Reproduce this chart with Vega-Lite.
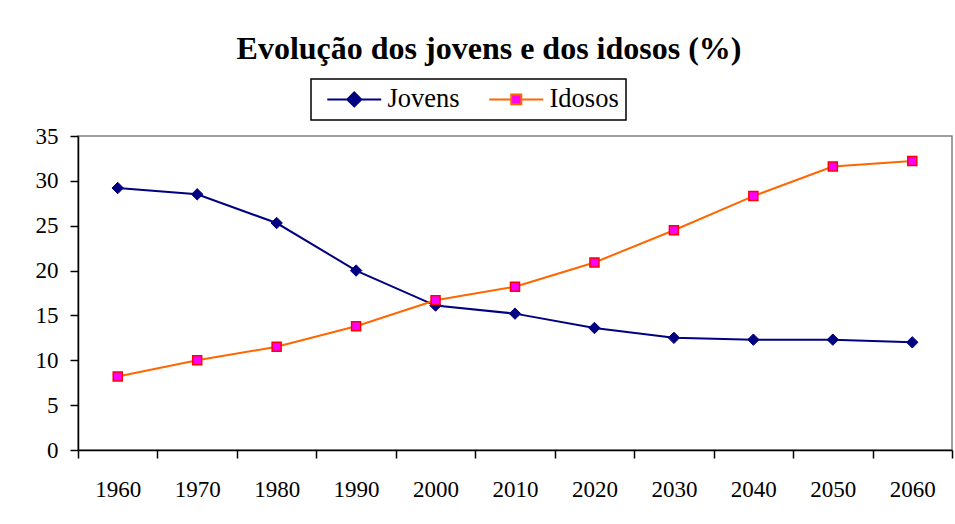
{
  "$schema": "https://vega.github.io/schema/vega-lite/v6.json",
  "width": 874,
  "height": 314,
  "autosize": {"type": "none"},
  "padding": {"left": 78, "top": 136, "right": 3, "bottom": 74},
  "background": "white",
  "title": {
    "text": "Evolução dos jovens e dos idosos (%)",
    "font": "'Liberation Serif', 'Times New Roman', Times, serif",
    "fontSize": 32,
    "fontWeight": "bold",
    "color": "black",
    "anchor": "middle",
    "frame": "group",
    "dx": -26,
    "baseline": "alphabetic",
    "offset": -13
  },
  "data": {
    "values": [
      {"ano": "1960", "serie": "Jovens", "valor": 29.2},
      {"ano": "1970", "serie": "Jovens", "valor": 28.5},
      {"ano": "1980", "serie": "Jovens", "valor": 25.3},
      {"ano": "1990", "serie": "Jovens", "valor": 20.0},
      {"ano": "2000", "serie": "Jovens", "valor": 16.1},
      {"ano": "2010", "serie": "Jovens", "valor": 15.2},
      {"ano": "2020", "serie": "Jovens", "valor": 13.6},
      {"ano": "2030", "serie": "Jovens", "valor": 12.5},
      {"ano": "2040", "serie": "Jovens", "valor": 12.3},
      {"ano": "2050", "serie": "Jovens", "valor": 12.3},
      {"ano": "2060", "serie": "Jovens", "valor": 12.0},
      {"ano": "1960", "serie": "Idosos", "valor": 8.2},
      {"ano": "1970", "serie": "Idosos", "valor": 10.0},
      {"ano": "1980", "serie": "Idosos", "valor": 11.5},
      {"ano": "1990", "serie": "Idosos", "valor": 13.8},
      {"ano": "2000", "serie": "Idosos", "valor": 16.7},
      {"ano": "2010", "serie": "Idosos", "valor": 18.2},
      {"ano": "2020", "serie": "Idosos", "valor": 20.9},
      {"ano": "2030", "serie": "Idosos", "valor": 24.5},
      {"ano": "2040", "serie": "Idosos", "valor": 28.3},
      {"ano": "2050", "serie": "Idosos", "valor": 31.6},
      {"ano": "2060", "serie": "Idosos", "valor": 32.2}
    ]
  },
  "encoding": {
    "x": {
      "field": "ano",
      "type": "ordinal",
      "scale": {"type": "band", "paddingInner": 0, "paddingOuter": 0},
      "axis": {
        "title": null,
        "labelAngle": 0,
        "tickBand": "extent",
        "domainColor": "black",
        "domainWidth": 1.5,
        "tickColor": "black",
        "tickWidth": 1.5,
        "tickSize": 8,
        "labelPadding": 20,
        "labelFont": "'Liberation Serif', 'Times New Roman', Times, serif",
        "labelFontSize": 23,
        "labelColor": "black",
        "grid": false
      }
    },
    "y": {
      "field": "valor",
      "type": "quantitative",
      "scale": {"domain": [0, 35], "nice": false},
      "axis": {
        "title": null,
        "values": [0, 5, 10, 15, 20, 25, 30, 35],
        "domainColor": "black",
        "domainWidth": 1.5,
        "tickColor": "black",
        "tickWidth": 1.5,
        "tickSize": 8,
        "labelPadding": 12,
        "labelFont": "'Liberation Serif', 'Times New Roman', Times, serif",
        "labelFontSize": 23,
        "labelColor": "black",
        "grid": false
      }
    }
  },
  "layer": [
    {
      "mark": {"type": "line", "strokeWidth": 2},
      "encoding": {
        "color": {
          "field": "serie",
          "type": "nominal",
          "scale": {"domain": ["Jovens", "Idosos"], "range": ["#000080", "#FF6600"]},
          "legend": {
            "orient": "none",
            "legendX": 233,
            "legendY": -57,
            "direction": "horizontal",
            "title": null,
            "padding": 7,
            "strokeColor": "black",
            "fillColor": "white",
            "symbolType": "M-1,0H1",
            "symbolSize": 196,
            "symbolStrokeWidth": 2,
            "labelFont": "'Liberation Serif', 'Times New Roman', Times, serif",
            "labelFontSize": 26.5,
            "labelColor": "black",
            "labelOffset": 43,
            "columnPadding": 20,
            "encode": {
              "legend": {"update": {"strokeWidth": {"value": 1.5}}},
              "symbols": {
                "update": {
                  "shape": {"signal": "datum.value === 'Jovens' ? 'M-0.57,0H7.14M3.29,-1L4.29,0L3.29,1L2.29,0Z' : 'M-0.57,0H2.57M4,0H7.14M2.57,-0.71H4V0.71H2.57Z'"},
                  "fill": {"signal": "datum.value === 'Jovens' ? '#000080' : '#FF00FF'"},
                  "stroke": {"signal": "datum.value === 'Jovens' ? '#000080' : '#FF6600'"},
                  "opacity": {"value": 1}
                }
              }
            }
          }
        }
      }
    },
    {
      "transform": [{"filter": "datum.serie === 'Jovens'"}],
      "mark": {"type": "point", "shape": "diamond", "filled": true, "opacity": 1, "size": 130, "fill": "#000080", "stroke": "#000080", "strokeWidth": 1}
    },
    {
      "transform": [{"filter": "datum.serie === 'Idosos'"}],
      "mark": {"type": "point", "shape": "square", "filled": true, "opacity": 1, "size": 81, "fill": "#FF00FF", "stroke": "#FF0000", "strokeWidth": 1.5}
    }
  ],
  "config": {
    "view": {"stroke": "#808080", "strokeWidth": 1.5},
    "axis": {"labelFont": "'Liberation Serif', 'Times New Roman', Times, serif"},
    "text": {"font": "'Liberation Serif', 'Times New Roman', Times, serif"}
  }
}
